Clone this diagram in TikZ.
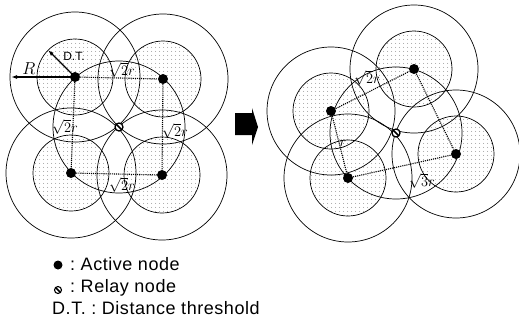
\documentclass[tikz,border=0pt]{standalone}
\usepackage{fontspec}
\newfontfamily\legfont[LetterSpace=3]{Liberation Sans}
\newfontfamily\dtfont{Liberation Sans}
\usetikzlibrary{patterns.meta,arrows.meta}
\begin{document}
\begin{tikzpicture}[x=1pt,y=-1pt,
  active/.style={circle,fill=black,inner sep=0pt,minimum size=10pt},
  relay/.style={circle,draw=black,fill=white,line width=1.3pt,inner sep=0pt,minimum size=8pt,
    path picture={\draw[line width=1.6pt] (path picture bounding box.north west) -- (path picture bounding box.south east);}},
  shade/.style={pattern={Dots[radius=0.5pt,distance=4pt]},pattern color=black!55},
  ring/.style={draw=black,line width=0.7pt},
  edge/.style={densely dotted,line width=1.1pt},
  ptr/.style={line width=1.2pt,-{Latex[length=6pt,width=4pt]}},
  lab/.style={inner sep=0pt,font=\fontsize{15}{15}\selectfont},
  leg/.style={anchor=base west,inner sep=0pt,font=\legfont\fontsize{18}{18}\selectfont}]
\useasboundingbox (0,0) rectangle (519,322);

% ---------- left figure ----------
\coordinate (ul) at (75,77);
\coordinate (ur) at (163,79);
\coordinate (bl) at (71,173);
\coordinate (br) at (162,175);
\coordinate (rl) at (119,127);

\foreach \p in {ul,ur,bl,br} \fill[shade] (\p) circle[radius=38];
\foreach \p in {ul,ur,bl,br} {
  \draw[ring] (\p) circle[radius=38];
  \draw[ring] (\p) circle[radius=65];
}
\draw[ring] (rl) circle[radius=66];

\node[active] (a1) at (ul) {};
\node[active] (a2) at (ur) {};
\node[active] (a3) at (bl) {};
\node[active] (a4) at (br) {};
\node[relay] (r1) at (rl) {};

\draw[edge] (a1) -- (a2);
\draw[edge] (a1) -- (a3);
\draw[edge] (a2) -- (a4);
\draw[edge] (a3) -- (a4);

\coordinate (dt) at (48,50);
\coordinate (rt) at (11,77);
\draw[ptr] (a1.center) -- (dt);
\draw[ptr] (a1.center) -- (rt);
\node[inner sep=0pt,font=\dtfont\fontsize{12}{12}\selectfont] (dtl) at (74,56) {D.T.};
\node[inner sep=0pt,font=\fontsize{17}{17}\selectfont] (rl1) at (29,69) {$R$};

\node[lab] (l1) at (122,70) {$\sqrt{2}r$};
\node[lab] (l2) at (65,127) {$\sqrt{2}r$};
\node[lab] (l3) at (175,131) {$\sqrt{2}r$};
\node[lab] (l4) at (122,185) {$\sqrt{2}r$};

% ---------- big arrow ----------
\fill (235,113) -- (252,113) -- (252,108) -- (258,127) -- (252,145) -- (252,135) -- (235,135) -- cycle;

% ---------- right figure ----------
\coordinate (pa) at (331,111);
\coordinate (pb) at (414,69);
\coordinate (pc) at (456,154);
\coordinate (pd) at (348,178);
\coordinate (rr) at (396,133);

\foreach \p in {pa,pb,pc,pd} \fill[shade] (\p) circle[radius=38];
\foreach \p in {pa,pb,pc,pd} {
  \draw[ring] (\p) circle[radius=38];
  \draw[ring] (\p) circle[radius=64];
}
\draw[ring] (rr) circle[radius=66];

\node[active] (b1) at (pa) {};
\node[active] (b2) at (pb) {};
\node[active] (b3) at (pc) {};
\node[active] (b4) at (pd) {};
\node[relay] (r2) at (rr) {};

\draw[edge] (b1) -- (b2);
\draw[edge] (b2) -- (b3);
\draw[edge] (b1) -- (b4);
\draw[edge] (b4) -- (b3);

\node[lab] (m1) at (367,78) {$\sqrt{2}r$};
\node[lab] (m2) at (343,143) {$r$};
\node[lab] (m3) at (422,181) {$\sqrt{3}r$};

% ---------- legend ----------
\node[active,minimum size=9pt] (la) at (58,265) {};
\node[relay,minimum size=7pt,line width=1.1pt] (lr) at (58,290) {};
\node[leg] (t1) at (70,270) {:\ Active node};
\node[leg] (t2) at (70,292) {:\ Relay node};
\node[leg] (t3) at (52,314) {D.T.\ :\ Distance threshold};
\end{tikzpicture}
\end{document}
